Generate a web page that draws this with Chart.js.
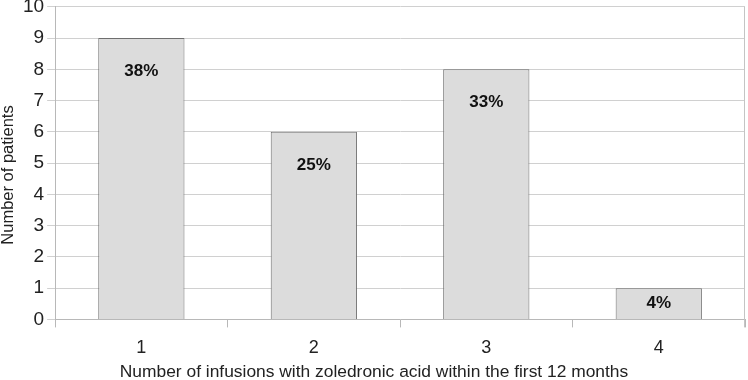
<!DOCTYPE html>
<html>
<head>
<script src="https://cdn.jsdelivr.net/npm/chart.js"></script>
<title>Zoledronic acid infusions</title>
<style>
  body { margin: 0; background: #fff; }
</style>
</head>
<body>
<canvas id="myChart" width="748" height="380"></canvas>
<script>
// data
const infusions = ['1', '2', '3', '4'];
const patients = [9, 6, 8, 1];
const shares = ['38%', '25%', '33%', '4%'];
const yTitle = 'Number of patients';
const xTitle = 'Number of infusions with zoledronic acid within the first 12 months';

const FONT = '"Liberation Sans", Arial, sans-serif';

// labels inside each bar, about 33px under the top (centred if the bar is short)
const barLabels = {
  id: 'barLabels',
  afterDatasetsDraw(chart) {
    const ctx = chart.ctx;
    const meta = chart.getDatasetMeta(0);
    ctx.save();
    ctx.font = 'bold 17px ' + FONT;
    ctx.fillStyle = '#111';
    ctx.textAlign = 'center';
    ctx.textBaseline = 'middle';
    meta.data.forEach((bar, i) => {
      const h = bar.base - bar.y;
      let y = bar.y + 33;
      if (h < 66) y = bar.y + h / 2;
      ctx.fillText(shares[i], bar.x, y);
    });
    ctx.restore();
  }
};

// right hand border of the plot + both axis titles (centred on the page, not the plot)
const frame = {
  id: 'frame',
  beforeDatasetsDraw(chart) {
    const a = chart.chartArea;
    const ctx = chart.ctx;
    ctx.save();
    ctx.strokeStyle = '#c4c4c4';
    ctx.lineWidth = 1;
    ctx.beginPath();
    ctx.moveTo(a.right - 0.5, a.top);
    ctx.lineTo(a.right - 0.5, a.bottom + 8);
    ctx.stroke();
    ctx.restore();
  },
  afterDraw(chart) {
    const ctx = chart.ctx;
    ctx.save();
    ctx.fillStyle = '#222';
    ctx.textAlign = 'center';
    ctx.textBaseline = 'middle';
    ctx.font = '17.4px ' + FONT;
    ctx.fillText(xTitle, chart.width / 2, chart.height - 8);
    ctx.translate(8, 175);
    ctx.rotate(-Math.PI / 2);
    ctx.font = '16.5px ' + FONT;
    ctx.fillText(yTitle, 0, 0);
    ctx.restore();
  }
};

const ctx = document.getElementById('myChart').getContext('2d');
const chart = new Chart(ctx, {
  type: 'bar',
  data: {
    labels: infusions,
    datasets: [{
      data: patients,
      backgroundColor: '#dcdcdc',
      borderColor: '#6e6e6e',
      borderWidth: 1,
      categoryPercentage: 1,
      barPercentage: 0.5
    }]
  },
  options: {
    responsive: false,
    animation: false,
    layout: { padding: { top: 0, right: 3, left: 20, bottom: 11 } },
    plugins: {
      legend: { display: false },
      tooltip: { enabled: false }
    },
    scales: {
      x: {
        offset: true,
        grid: { offset: true, drawOnChartArea: false, tickLength: 8, color: '#b8b8b8' },
        border: { color: '#b8b8b8' },
        ticks: { color: '#222', font: { family: FONT, size: 18 }, padding: 10 }
      },
      y: {
        min: 0,
        max: 10,
        grid: { color: '#d0d0d0', tickLength: 8 },
        border: { color: '#b8b8b8' },
        ticks: { stepSize: 1, color: '#222', font: { family: FONT, size: 19, lineHeight: 0.4 }, padding: 3 }
      }
    }
  },
  plugins: [barLabels, frame]
});
</script>
</body>
</html>
